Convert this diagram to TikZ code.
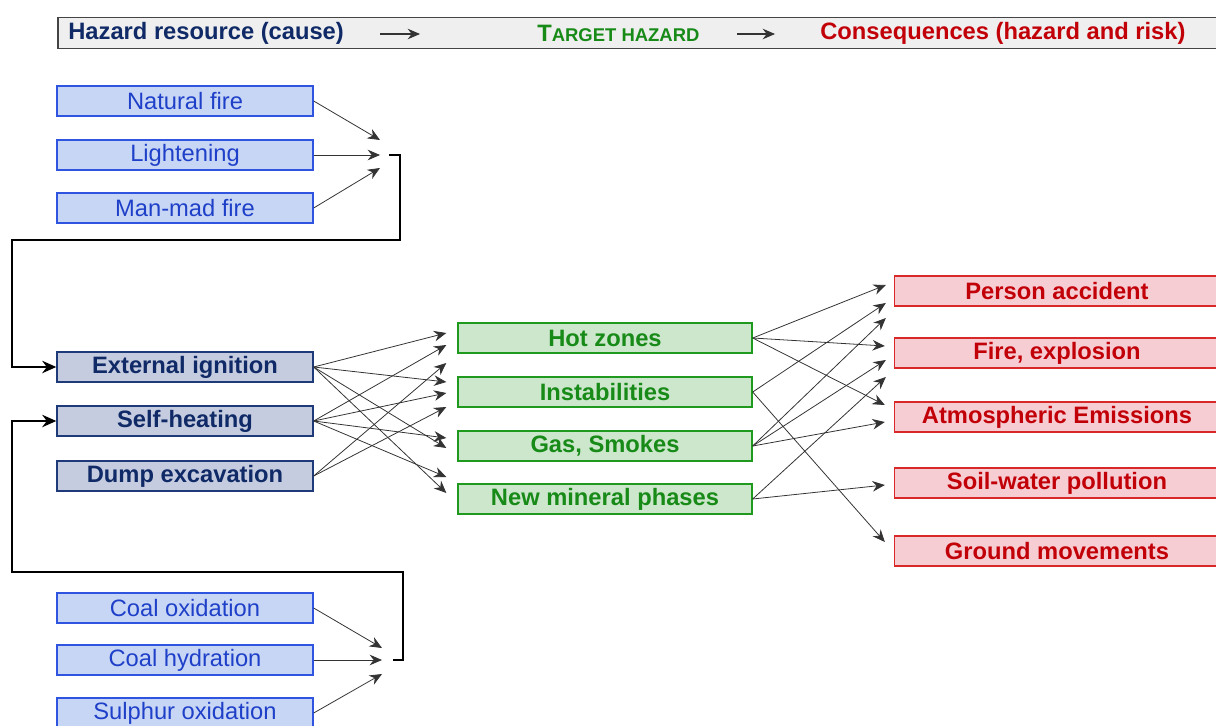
\documentclass[tikz,border=0pt]{standalone}
\usepackage{fontspec}
\setmainfont{Liberation Sans}
\usetikzlibrary{arrows.meta,calc}
\definecolor{headfill}{HTML}{EFEFEF}
\definecolor{headline}{HTML}{444444}
\definecolor{srcfill}{HTML}{C8D6F6}
\definecolor{srcline}{HTML}{2F55E0}
\definecolor{srctext}{HTML}{1E40C8}
\definecolor{causefill}{HTML}{C6CCE0}
\definecolor{causeline}{HTML}{1E3A78}
\definecolor{causetext}{HTML}{0F2A66}
\definecolor{hazfill}{HTML}{CDE7CD}
\definecolor{hazline}{HTML}{1F9A1F}
\definecolor{haztext}{HTML}{178A17}
\definecolor{consfill}{HTML}{F6CDD3}
\definecolor{consline}{HTML}{D82828}
\definecolor{constext}{HTML}{C20008}
\newcommand{\boxfont}{\fontsize{13.5}{16}\selectfont}
\newcommand{\capsfont}{\fontsize{10.5}{12}\selectfont}
\tikzstyle{box}=[rectangle, minimum height=0.6cm, inner sep=0pt, line width=0.8pt, anchor=center, font=\boxfont]
\tikzstyle{srcbox}=[box, minimum width=5.12cm, fill=srcfill, draw=srcline, text=srctext]
\tikzstyle{causebox}=[box, minimum width=5.12cm, fill=causefill, draw=causeline, text=causetext, font=\boxfont\bfseries]
\tikzstyle{hazbox}=[box, minimum width=5.88cm, fill=hazfill, draw=hazline, text=haztext, font=\boxfont\bfseries]
\tikzstyle{consbox}=[box, minimum width=6.5cm, fill=consfill, draw=consline, text=constext, font=\boxfont\bfseries]
\tikzstyle{annot}=[anchor=west, inner sep=0pt, font=\boxfont\bfseries]
\tikzstyle{link}=[-{Stealth[length=7pt,width=6pt]}, line width=0.45pt, draw=black!80]
\tikzstyle{feed}=[-{Stealth[length=8pt,width=7pt]}, line width=1.5pt, line join=miter]

\begin{document}
\begin{tikzpicture}[x=0.02cm, y=-0.02cm]
	\useasboundingbox (0,0) rectangle (1216,726);

	% header
	\node[rectangle, draw=headline, fill=headfill, line width=1pt, minimum width=23.3cm, minimum height=0.62cm, anchor=west](head) at (57,33){};
	\node[annot, text=causetext](headcause) at (68,33){Hazard resource (cause)};
	\node[annot, text=haztext](headhaz) at (537,33){T{\capsfont ARGET HAZARD}};
	\node[annot, text=constext](headcons) at (820,33){Consequences (hazard and risk)};
	\coordinate (harrow1) at (380,34);
	\coordinate (harrow2) at (737,34);
	\draw[link, line width=0.6pt] (harrow1) -- ++(40,0);
	\draw[link, line width=0.6pt] (harrow2) -- ++(38,0);

	% external sources
	\node[srcbox](natfire) at (185,101){Natural fire};
	\node[srcbox](light) at (185,155){Lightening};
	\node[srcbox](manfire) at (185,208){Man-mad fire};
	\coordinate (firejoin) at (389,155);

	% internal sources
	\node[srcbox](coalox) at (185,608){Coal oxidation};
	\node[srcbox](coalhyd) at (185,660){Coal hydration};
	\node[srcbox](sulph) at (185,713){Sulphur oxidation};
	\coordinate (oxjoin) at (393,660);

	% causes
	\node[causebox](ext) at (185,367){External ignition};
	\node[causebox](heat) at (185,421){Self-heating};
	\node[causebox](dump) at (185,476){Dump excavation};

	% target hazards
	\node[hazbox](hot) at (605,338){Hot zones};
	\node[hazbox](inst) at (605,392){Instabilities};
	\node[hazbox](gas) at (605,446){Gas, Smokes};
	\node[hazbox](mineral) at (605,499){New mineral phases};

	% consequences
	\node[consbox](person) at (1057,291){Person accident};
	\node[consbox](fire) at (1057,353){Fire, explosion};
	\node[consbox](atmo) at (1057,417){Atmospheric Emissions};
	\node[consbox](soil) at (1057,483){Soil-water pollution};
	\node[consbox](ground) at (1057,551){Ground movements};

	\draw[link] (natfire.east) -- ($(firejoin)+(-9,-15)$);
	\draw[link] (light.east) -- ($(firejoin)+(-9,0)$);
	\draw[link] (manfire.east) -- ($(firejoin)+(-9,13)$);
	\draw[feed] (firejoin) -- ++(11,0) |- (12,240) |- (ext.west);

	\draw[link] (coalox.east) -- ($(oxjoin)+(-11,-12)$);
	\draw[link] (coalhyd.east) -- ($(oxjoin)+(-11,0)$);
	\draw[link] (sulph.east) -- ($(oxjoin)+(-11,14)$);
	\draw[feed] (oxjoin) -- ++(10,0) |- (12,572) |- (heat.west);

	\draw[link] (ext.east) -- ($(hot.west)+(-11,-5)$);
	\draw[link] (ext.east) -- ($(inst.west)+(-11,-10)$);
	\draw[link] (ext.east) -- ($(gas.west)+(-11,2)$);
	\draw[link] (ext.east) -- ($(mineral.west)+(-11,-6)$);
	\draw[link] (heat.east) -- ($(hot.west)+(-11,7)$);
	\draw[link] (heat.east) -- ($(inst.west)+(-11,1)$);
	\draw[link] (heat.east) -- ($(gas.west)+(-11,-8)$);
	\draw[link] (heat.east) -- ($(mineral.west)+(-11,-22)$);
	\draw[link] (dump.east) -- ($(hot.west)+(-11,25)$);
	\draw[link] (dump.east) -- ($(inst.west)+(-11,15)$);

	\draw[link] (hot.east) -- ($(person.west)+(-8,-6)$);
	\draw[link] (hot.east) -- ($(fire.west)+(-9,-7)$);
	\draw[link] (hot.east) -- ($(atmo.west)+(-9,-12)$);
	\draw[link] (inst.east) -- ($(person.west)+(-8,12)$);
	\draw[link] (inst.east) -- ($(ground.west)+(-9,-9)$);
	\draw[link] (gas.east) -- ($(person.west)+(-8,27)$);
	\draw[link] (gas.east) -- ($(fire.west)+(-8,7)$);
	\draw[link] (gas.east) -- ($(atmo.west)+(-9,5)$);
	\draw[link] (mineral.east) -- ($(fire.west)+(-8,24)$);
	\draw[link] (mineral.east) -- ($(soil.west)+(-9,2)$);
\end{tikzpicture}
\end{document}
